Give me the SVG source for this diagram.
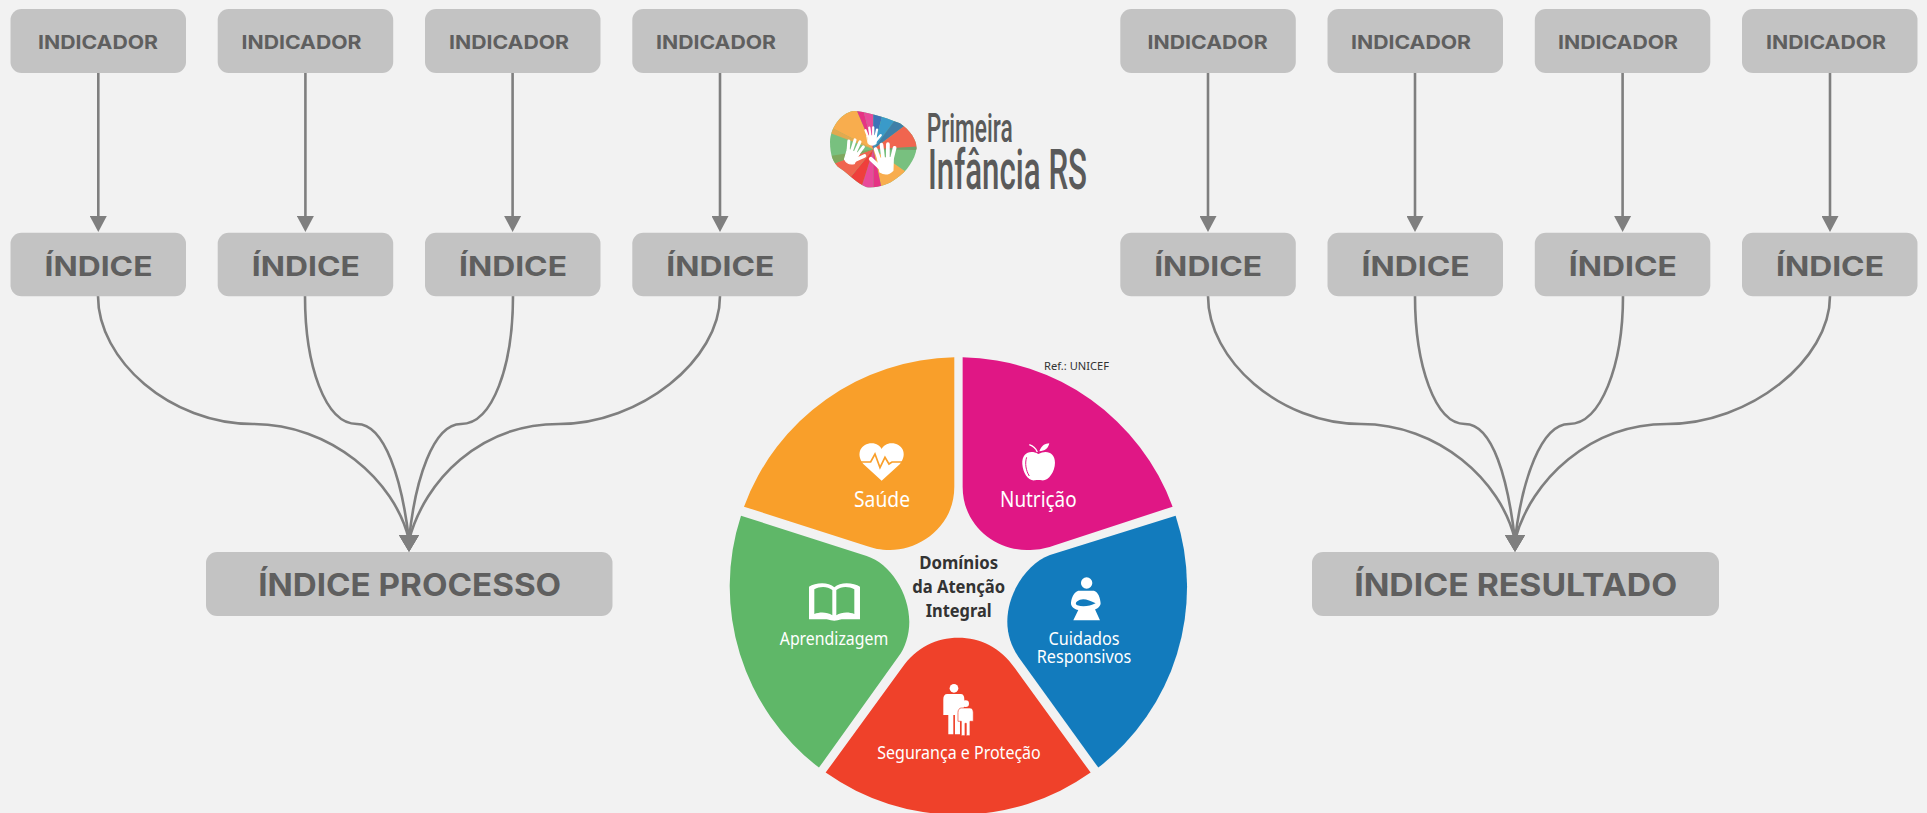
<svg xmlns="http://www.w3.org/2000/svg" xmlns:xlink="http://www.w3.org/1999/xlink" width="1927" height="813" viewBox="0 0 1927 813">
<style>
.b{fill:#c3c3c3}
.t{font-family:Inter,"Liberation Sans",sans-serif;font-weight:700;fill:#5f5f5f;text-anchor:middle}
.i{font-size:19px}
.x{font-size:27px}
.m{font-size:31px}
.w{font-family:"Noto Sans","Liberation Sans",sans-serif;fill:#fff;text-anchor:middle}
.d{font-family:"Noto Sans","Liberation Sans",sans-serif;font-weight:700;font-size:18px;fill:#333;text-anchor:middle}
.s{fill:none;stroke:#7f7f7f;stroke-width:2.6}
.l{font-family:Roboto,"Liberation Sans",sans-serif;font-weight:500;fill:#5a5a5a}
</style>
<defs>
<marker id="a" markerUnits="userSpaceOnUse" markerWidth="18" markerHeight="17" refX="8.5" refY="0" orient="0"><path d="M0 0H17L8.5 16Z" fill="#7f7f7f"/></marker>
<marker id="A" markerUnits="userSpaceOnUse" markerWidth="21" markerHeight="18" refX="10" refY="5" orient="0"><path d="M0 0H20L10 16.7Z" fill="#7f7f7f"/></marker>
<clipPath id="blob"><path d="M100 33C130 33 190 50 240 70C270 90 290 120 290 145C285 180 260 215 230 235C205 255 170 265 140 262C110 250 90 225 60 205C40 190 30 165 30 125C32 85 60 40 100 33Z"/></clipPath>
<g id="hand" fill="#fff" stroke="#fff" stroke-linecap="round">
<path d="M-22 -8H24L20 32Q0 46 -18 30Z" stroke-width="4"/>
<path d="M-19 -8L-28 -36M-6 -8L-9 -48M8 -8L10 -48M20 -6L28 -36" stroke-width="11" fill="none"/>
<path d="M20 18L44 -8" stroke-width="12" fill="none"/>
</g>
</defs>
<rect width="1927" height="813" fill="#f2f2f2"/>

<g id="connectors">
<g class="s" marker-end="url(#a)">
<path d="M98.3 73V216"/>
<path d="M305.4 73V216"/>
<path d="M512.6 73V216"/>
<path d="M720 73V216"/>
<path d="M1208 73V216"/>
<path d="M1415 73V216"/>
<path d="M1622.6 73V216"/>
<path d="M1830 73V216"/>
</g>
<g class="s" marker-end="url(#A)">
<path d="M98 296C98 360 170 424 253 424C330 424 395 480 409 540"/>
<path d="M305 296C305 365 325 424 357 424C385 424 402 480 409 540"/>
<path d="M513 296C513 365 493 424 461 424C433 424 415 480 409 540"/>
<path d="M720 296C720 360 640 424 559 424C480 424 425 480 409 540"/>
<path d="M1208 296C1208 360 1280 424 1361 424C1438 424 1501 480 1515 540"/>
<path d="M1415 296C1415 365 1435 424 1465 424C1493 424 1508 480 1515 540"/>
<path d="M1623 296C1623 365 1601 424 1569 424C1541 424 1522 480 1515 540"/>
<path d="M1830 296C1830 360 1750 424 1667 424C1590 424 1531 480 1515 540"/>
</g>
</g>

<g id="ind1"><rect class="b" x="10.5" y="9" width="175.5" height="64" rx="11"/><text class="t i" x="98" y="49.3" textLength="120" lengthAdjust="spacingAndGlyphs">INDICADOR</text></g>
<g id="ind2"><rect class="b" x="217.7" y="9" width="175.5" height="64" rx="11"/><text class="t i" x="301.5" y="49.3" textLength="120" lengthAdjust="spacingAndGlyphs">INDICADOR</text></g>
<g id="ind3"><rect class="b" x="425" y="9" width="175.5" height="64" rx="11"/><text class="t i" x="509" y="49.3" textLength="120" lengthAdjust="spacingAndGlyphs">INDICADOR</text></g>
<g id="ind4"><rect class="b" x="632.3" y="9" width="175.5" height="64" rx="11"/><text class="t i" x="716" y="49.3" textLength="120" lengthAdjust="spacingAndGlyphs">INDICADOR</text></g>
<g id="ind5"><rect class="b" x="1120.3" y="9" width="175.5" height="64" rx="11"/><text class="t i" x="1207.6" y="49.3" textLength="120" lengthAdjust="spacingAndGlyphs">INDICADOR</text></g>
<g id="ind6"><rect class="b" x="1327.5" y="9" width="175.5" height="64" rx="11"/><text class="t i" x="1411" y="49.3" textLength="120" lengthAdjust="spacingAndGlyphs">INDICADOR</text></g>
<g id="ind7"><rect class="b" x="1534.8" y="9" width="175.5" height="64" rx="11"/><text class="t i" x="1618" y="49.3" textLength="120" lengthAdjust="spacingAndGlyphs">INDICADOR</text></g>
<g id="ind8"><rect class="b" x="1742" y="9" width="175.5" height="64" rx="11"/><text class="t i" x="1826" y="49.3" textLength="120" lengthAdjust="spacingAndGlyphs">INDICADOR</text></g>

<g id="idx1"><rect class="b" x="10.5" y="232.7" width="175.5" height="63.5" rx="11"/><text class="t x" x="98.5" y="276.3" textLength="108" lengthAdjust="spacingAndGlyphs">ÍNDICE</text></g>
<g id="idx2"><rect class="b" x="217.7" y="232.7" width="175.5" height="63.5" rx="11"/><text class="t x" x="305.8" y="276.3" textLength="108" lengthAdjust="spacingAndGlyphs">ÍNDICE</text></g>
<g id="idx3"><rect class="b" x="425" y="232.7" width="175.5" height="63.5" rx="11"/><text class="t x" x="513" y="276.3" textLength="108" lengthAdjust="spacingAndGlyphs">ÍNDICE</text></g>
<g id="idx4"><rect class="b" x="632.3" y="232.7" width="175.5" height="63.5" rx="11"/><text class="t x" x="720.3" y="276.3" textLength="108" lengthAdjust="spacingAndGlyphs">ÍNDICE</text></g>
<g id="idx5"><rect class="b" x="1120.3" y="232.7" width="175.5" height="63.5" rx="11"/><text class="t x" x="1208.2" y="276.3" textLength="108" lengthAdjust="spacingAndGlyphs">ÍNDICE</text></g>
<g id="idx6"><rect class="b" x="1327.5" y="232.7" width="175.5" height="63.5" rx="11"/><text class="t x" x="1415.6" y="276.3" textLength="108" lengthAdjust="spacingAndGlyphs">ÍNDICE</text></g>
<g id="idx7"><rect class="b" x="1534.8" y="232.7" width="175.5" height="63.5" rx="11"/><text class="t x" x="1622.8" y="276.3" textLength="108" lengthAdjust="spacingAndGlyphs">ÍNDICE</text></g>
<g id="idx8"><rect class="b" x="1742" y="232.7" width="175.5" height="63.5" rx="11"/><text class="t x" x="1830" y="276.3" textLength="108" lengthAdjust="spacingAndGlyphs">ÍNDICE</text></g>

<g id="processo"><rect class="b" x="206" y="552" width="406.5" height="64" rx="11"/><text class="t m" x="409.7" y="595.7" textLength="303" lengthAdjust="spacingAndGlyphs">ÍNDICE PROCESSO</text></g>
<g id="resultado"><rect class="b" x="1312" y="552" width="407" height="64" rx="11"/><text class="t m" x="1515.7" y="595.7" textLength="323" lengthAdjust="spacingAndGlyphs">ÍNDICE RESULTADO</text></g>

<g id="logo">
<g transform="translate(820 100) scale(.3333)">
<g clip-path="url(#blob)">
<rect x="0" y="0" width="330" height="285" fill="#78c07f"/>
<polygon points="160,148 -10,60 60,-10 97,0" fill="#f8ad4e"/>
<polygon points="160,148 20,95 30,80" fill="#e2a94f"/>
<polygon points="160,148 97,0 122,0" fill="#e63384"/>
<polygon points="160,148 122,0 160,0" fill="#e84a9a"/>
<polygon points="160,148 160,0 194,20" fill="#3d73b8"/>
<polygon points="160,148 194,20 240,40" fill="#3a9ac9"/>
<polygon points="160,148 240,40 270,65" fill="#3f7fa8"/>
<polygon points="160,148 270,65 310,148" fill="#f0654f"/>
<polygon points="160,148 310,138 310,150" fill="#6fa06a"/>
<polygon points="160,148 262,218 190,290" fill="#f8ad4e"/>
<polygon points="160,148 190,290 160,290" fill="#e63384"/>
<polygon points="160,148 160,290 120,275" fill="#e84a9a"/>
<polygon points="160,148 120,275 85,240" fill="#ef3f3c"/>
<polygon points="160,148 85,240 30,195" fill="#f0654f"/>
<polygon points="160,148 30,195 15,170" fill="#7fa85f"/>
</g>
<use xlink:href="#hand" href="#hand" transform="translate(155 112) rotate(-3) scale(.62)"/>
<use xlink:href="#hand" href="#hand" transform="translate(97 160) rotate(22) scale(.84)"/>
<use xlink:href="#hand" href="#hand" transform="translate(198 182) rotate(-4) scale(1.02) scale(-1 1)"/>
</g>
<text class="l" x="926.7" y="141.7" font-size="40" textLength="86" lengthAdjust="spacingAndGlyphs">Primeira</text>
<text class="l" x="928" y="189" font-size="55" textLength="159" lengthAdjust="spacingAndGlyphs">Infância RS</text>
</g>

<g id="wheel">
<g id="saude">
<path transform="translate(720 340) scale(.3333)" fill="#f99f2a" d="M703 52V440C703 560 600 630 510 630C480 630 460 625 440 618L72 500A685 685 0 0 1 703 52Z"/>
<g transform="translate(720 340) scale(.3333)">
<path fill="#fff" d="M485 422L430 372C405 340 425 310 455 310C470 310 480 318 485 327C490 318 500 310 515 310C545 310 565 340 540 372Z"/>
<path fill="none" stroke="#f99f2a" stroke-width="5" d="M420 366H452L465 342L480 383L495 352L507 372L516 366H552"/>
</g>
<text class="w" x="882" y="507.2" font-size="21" textLength="56" lengthAdjust="spacingAndGlyphs">Saúde</text>
</g>
<g id="nutricao">
<path transform="translate(720 340) scale(.3333)" fill="#e01785" d="M728 52A685 685 0 0 1 1358 500L1000 617C970 627 950 630 920 630C830 630 728 560 728 440Z"/>
<g transform="translate(720 340) scale(.3333)">
<path fill="#fff" d="M955 342C930 328 905 340 907 372C909 400 925 424 945 421C950 420 960 420 965 421C985 424 1005 395 1005 368C1005 338 980 328 955 342Z"/>
<path fill="#fff" d="M958 334C968 312 975 312 988 310C985 325 975 333 958 334Z"/>
<path fill="none" stroke="#fff" stroke-width="4" d="M952 336C948 326 940 318 928 314"/>
<path fill="none" stroke="#e01785" stroke-width="3" d="M920 352C914 370 918 392 928 408"/>
</g>
<text class="w" x="1038.3" y="507.2" font-size="21" textLength="76.5" lengthAdjust="spacingAndGlyphs">Nutrição</text>
<text x="1044" y="370" font-family="Noto Sans,Liberation Sans,sans-serif" font-size="11.5" fill="#333" textLength="65" lengthAdjust="spacingAndGlyphs">Ref.: UNICEF</text>
</g>
<g id="cuidados">
<path transform="translate(720 340) scale(.3333)" fill="#127bbd" d="M1367 527A685 685 0 0 1 1135 1283L895 950C875 920 862 885 862 845C862 760 920 670 990 645Z"/>
<g transform="translate(720 340) scale(.3333)">
<circle cx="1100" cy="729" r="17" fill="#fff"/>
<path fill="#fff" d="M1075 752H1122C1135 755 1141 775 1142 790C1142 800 1130 808 1125 808L1140 841H1060L1075 810C1065 808 1052 800 1053 788C1055 772 1062 756 1075 752Z"/>
<path fill="#127bbd" d="M1072 784C1085 772 1105 778 1127 790C1110 798 1090 802 1072 796C1066 794 1066 788 1072 784Z"/>
</g>
<text class="w" x="1084" y="644.5" font-size="18" textLength="71" lengthAdjust="spacingAndGlyphs">Cuidados</text>
<text class="w" x="1084" y="662.8" font-size="18" textLength="94.5" lengthAdjust="spacingAndGlyphs">Responsivos</text>
</g>
<g id="seguranca">
<path transform="translate(720 340) scale(.3333)" fill="#ef412a" d="M317 1298L545 985C590 920 650 893 715 893C780 893 840 920 885 985L1112 1298A689 689 0 0 1 317 1298Z"/>
<g transform="translate(720 340) scale(.3333)" fill="#fff">
<circle cx="702" cy="1045" r="13"/>
<path d="M682 1062H722C730 1062 733 1068 733 1078V1100L720 1118V1183H705V1125H700V1183H685V1125L680 1125H670V1078C670 1068 674 1062 682 1062Z"/>
<circle cx="737" cy="1091" r="10"/>
<path stroke="#ef412a" stroke-width="2" d="M724 1104H750C756 1104 760 1110 760 1118V1144H750V1187H739V1150H735V1187H724V1144H714V1118C714 1110 718 1104 724 1104Z"/>
</g>
<text class="w" x="959" y="758.8" font-size="18" textLength="163.5" lengthAdjust="spacingAndGlyphs">Segurança e Proteção</text>
</g>
<g id="aprendizagem">
<path transform="translate(720 340) scale(.3333)" fill="#5fb768" d="M63 527L440 648C510 670 568 760 568 845C568 885 555 925 535 950L297 1283A685 685 0 0 1 63 527Z"/>
<g transform="translate(720 340) scale(.3333)">
<path fill="#fff" fill-rule="evenodd" d="M267 740C285 728 325 724 343 742C361 724 402 728 420 740V838H365C355 840 350 842 343 842C336 842 330 840 320 838H267ZM283 748V822C300 815 322 816 337 826V750C322 738 300 738 283 748ZM349 750V826C364 816 386 815 403 822V748C386 738 364 738 349 750Z"/>
</g>
<text class="w" x="834" y="644.5" font-size="18" textLength="108.5" lengthAdjust="spacingAndGlyphs">Aprendizagem</text>
</g>
<g id="centro">
<text class="d" x="958.7" y="569.3" textLength="79" lengthAdjust="spacingAndGlyphs">Domínios</text>
<text class="d" x="958.7" y="593.3" textLength="93" lengthAdjust="spacingAndGlyphs">da Atenção</text>
<text class="d" x="958.7" y="617.3" textLength="66" lengthAdjust="spacingAndGlyphs">Integral</text>
</g>
</g>
</svg>
